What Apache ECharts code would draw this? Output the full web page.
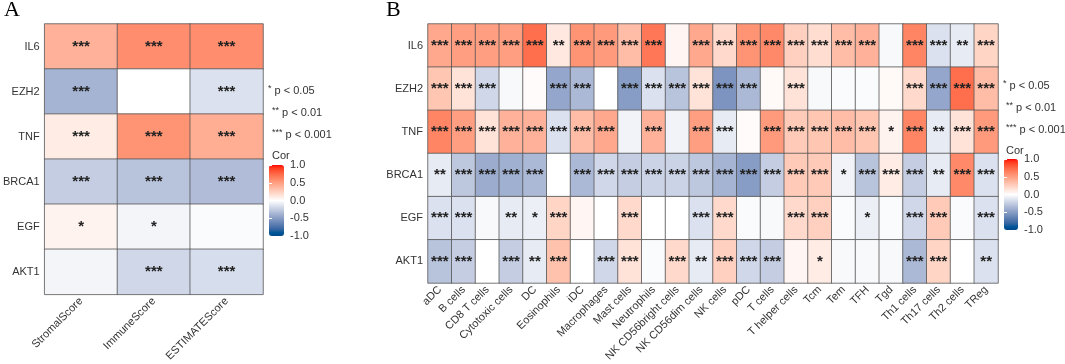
<!DOCTYPE html>
<html>
<head>
<meta charset="utf-8">
<script src="https://cdn.jsdelivr.net/npm/echarts@6/dist/echarts.min.js"></script>
<style>
  html, body { margin: 0; padding: 0; background: #fff; }
  #main { width: 1065px; height: 364px; }
</style>
</head>
<body>
<div id="main"></div>
<script>
"use strict";
// 基因（行）
var genes = ['IL6', 'EZH2', 'TNF', 'BRCA1', 'EGF', 'AKT1'];

// A 图列
var scoreCols = ['StromalScore', 'ImmuneScore', 'ESTIMATEScore'];
var corA = [
    [0.4, 0.58, 0.58],
    [-0.38, 0.0, -0.15],
    [0.1, 0.55, 0.42],
    [-0.25, -0.3, -0.33],
    [0.06, -0.05, -0.02],
    [-0.05, -0.2, -0.17]
];
var sigA = [
    ['***', '***', '***'],
    ['***', '', '***'],
    ['***', '***', '***'],
    ['***', '***', '***'],
    ['*', '*', ''],
    ['', '***', '***']
];

// B 图列（免疫细胞）
var cellCols = ['aDC', 'B cells', 'CD8 T cells', 'Cytotoxic cells', 'DC', 'Eosinophils', 'iDC',
    'Macrophages', 'Mast cells', 'Neutrophils', 'NK CD56bright cells', 'NK CD56dim cells',
    'NK cells', 'pDC', 'T cells', 'T helper cells', 'Tcm', 'Tem', 'TFH', 'Tgd',
    'Th1 cells', 'Th17 cells', 'Th2 cells', 'TReg'];
var corIL6 = [0.45, 0.5, 0.5, 0.5, 0.72, 0.12, 0.55, 0.52, 0.35, 0.68, 0.05, 0.45, 0.2, 0.55, 0.6, 0.25, 0.18, 0.35, 0.4, -0.03, 0.62, -0.15, -0.1, 0.22];
var corEZH2 = [0.3, 0.15, -0.2, -0.03, 0.02, -0.45, -0.35, 0.0, -0.5, -0.15, -0.3, 0.15, -0.55, -0.35, 0.03, 0.15, -0.03, -0.02, -0.02, 0.03, 0.2, -0.45, 0.72, 0.35];
var corTNF = [0.62, 0.5, 0.15, 0.4, 0.4, -0.15, 0.35, 0.45, -0.06, 0.4, -0.06, 0.5, -0.1, 0.02, 0.52, 0.28, 0.3, 0.35, 0.3, 0.06, 0.62, -0.1, 0.15, 0.52];
var corBRCA1 = [-0.1, -0.28, -0.42, -0.4, -0.35, 0.0, -0.35, -0.2, -0.25, -0.22, -0.22, -0.28, -0.38, -0.5, -0.25, 0.28, 0.28, -0.06, -0.3, 0.1, -0.25, -0.1, 0.6, -0.15];
var corEGF = [-0.15, -0.15, -0.03, -0.1, -0.08, 0.22, 0.05, 0.0, 0.2, 0.0, 0.0, -0.15, 0.2, -0.02, -0.03, 0.2, 0.25, -0.02, -0.08, -0.02, -0.2, 0.28, -0.02, -0.15];
var corAKT1 = [-0.3, -0.25, 0.0, -0.25, -0.1, 0.32, 0.0, -0.2, 0.15, -0.02, 0.2, -0.1, 0.25, -0.2, -0.25, 0.05, 0.1, -0.03, -0.03, -0.03, -0.35, 0.22, 0.0, -0.15];

var sigIL6 = ['***', '***', '***', '***', '***', '**', '***', '***', '***', '***', '', '***', '***', '***', '***', '***', '***', '***', '***', '', '***', '***', '**', '***'];
var sigEZH2 = ['***', '***', '***', '', '', '***', '***', '', '***', '***', '***', '***', '***', '***', '', '***', '', '', '', '', '***', '***', '***', '***'];
var sigTNF = ['***', '***', '***', '***', '***', '***', '***', '***', '', '***', '', '***', '***', '', '***', '***', '***', '***', '***', '*', '***', '**', '***', '***'];
var sigBRCA1 = ['**', '***', '***', '***', '***', '', '***', '***', '***', '***', '***', '***', '***', '***', '***', '***', '***', '*', '***', '***', '***', '**', '***', '***'];
var sigEGF = ['***', '***', '', '**', '*', '***', '', '', '***', '', '', '***', '***', '', '', '***', '***', '', '*', '', '***', '***', '', '***'];
var sigAKT1 = ['***', '***', '', '***', '**', '***', '', '***', '***', '', '***', '**', '***', '***', '***', '', '*', '', '', '', '***', '***', '', '**'];

var corB = [corIL6, corEZH2, corTNF, corBRCA1, corEGF, corAKT1];
var sigB = [sigIL6, sigEZH2, sigTNF, sigBRCA1, sigEGF, sigAKT1];

var pLegend = ['p < 0.05', 'p < 0.01', 'p < 0.001'];

// Lab 插值（类似 ggplot 的 gradient2）
function toLin(c) { c /= 255; return c <= 0.04045 ? c / 12.92 : Math.pow((c + 0.055) / 1.055, 2.4); }
function toSrgb(c) { c = c <= 0.0031308 ? 12.92 * c : 1.055 * Math.pow(c, 1 / 2.4) - 0.055; return Math.round(Math.max(0, Math.min(1, c)) * 255); }
function hexToLab(hex) {
    var r = toLin(parseInt(hex.substr(1, 2), 16)), g = toLin(parseInt(hex.substr(3, 2), 16)), b = toLin(parseInt(hex.substr(5, 2), 16));
    var x = (0.4124 * r + 0.3576 * g + 0.1805 * b) / 0.95047;
    var y = 0.2126 * r + 0.7152 * g + 0.0722 * b;
    var z = (0.0193 * r + 0.1192 * g + 0.9505 * b) / 1.08883;
    var f = function (t) { return t > 0.008856 ? Math.cbrt(t) : 7.787 * t + 16 / 116; };
    return [116 * f(y) - 16, 500 * (f(x) - f(y)), 200 * (f(y) - f(z))];
}
function labToHex(lab) {
    var fy = (lab[0] + 16) / 116, fx = fy + lab[1] / 500, fz = fy - lab[2] / 200;
    var inv = function (t) { var t3 = t * t * t; return t3 > 0.008856 ? t3 : (t - 16 / 116) / 7.787; };
    var x = 0.95047 * inv(fx), y = inv(fy), z = 1.08883 * inv(fz);
    var r = 3.2406 * x - 1.5372 * y - 0.4986 * z;
    var g = -0.9689 * x + 1.8758 * y + 0.0415 * z;
    var b = 0.0557 * x - 0.2040 * y + 1.0570 * z;
    return 'rgb(' + toSrgb(r) + ',' + toSrgb(g) + ',' + toSrgb(b) + ')';
}
function buildRamp(lowLab, mid, high, n) {
    var m = hexToLab(mid), h = hexToLab(high), out = [];
    for (var i = 0; i <= n; i++) {
        var v = -1 + 2 * i / n, a = v < 0 ? lowLab : h, t = Math.abs(v);
        out.push(labToHex([m[0] + (a[0] - m[0]) * t, m[1] + (a[1] - m[1]) * t, m[2] + (a[2] - m[2]) * t]));
    }
    return out;
}
var ramp = buildRamp([29, 4, -46], '#ffffff', '#ff0000', 40);

function toCells(mat) {
    var d = [];
    mat.forEach(function (row, y) {
        row.forEach(function (v, x) { d.push([x, y, v]); });
    });
    return d;
}

var labelFont = 'Liberation Sans, Arial, sans-serif';
var txt = '#333';

function catX(grid, data) {
    return {
        gridIndex: grid, type: 'category', data: data,
        axisLine: { show: false }, axisTick: { show: false }, splitLine: { show: false },
        axisLabel: { interval: 0, rotate: 45, margin: 5, fontSize: 11, color: txt, fontFamily: labelFont }
    };
}
function catY(grid) {
    return {
        gridIndex: grid, type: 'category', data: genes, inverse: true,
        axisLine: { show: false }, axisTick: { show: false }, splitLine: { show: false },
        axisLabel: { margin: 5, fontSize: 11, color: txt, fontFamily: labelFont }
    };
}
function barX(grid) { return { gridIndex: grid, type: 'value', show: false }; }
function barY(grid, side) {
    return {
        gridIndex: grid, type: 'value', min: -1, max: 1, interval: 0.5, position: side, z: 10,
        axisLine: { show: false }, splitLine: { show: false },
        axisTick: { show: true, inside: true, length: 3, lineStyle: { color: '#fff', width: 1 } },
        axisLabel: {
            show: side === 'right', margin: 6, fontSize: 11, color: txt, fontFamily: labelFont,
            formatter: function (v) { return v.toFixed(1); }
        }
    };
}
function heat(idx, mat, sig) {
    return {
        type: 'heatmap', xAxisIndex: idx, yAxisIndex: idx, data: toCells(mat),
        itemStyle: { borderColor: '#555', borderWidth: 0.8 },
        label: {
            show: true, fontSize: 15, fontWeight: 'bold', color: '#222', fontFamily: labelFont,
            formatter: function (p) { return sig[p.data[1]][p.data[0]]; }
        },
        emphasis: { disabled: true }
    };
}
function pText(x, y, stars, s) {
    return {
        type: 'text', left: x, top: y,
        style: {
            text: '{s|' + stars + '} ' + s, font: '11px ' + labelFont, fill: txt,
            rich: { s: { fontSize: 9, fill: txt, fontFamily: labelFont, verticalAlign: 'top', padding: [0, 0, 4, 0] } }
        }
    };
}

var myChart = echarts.init(document.getElementById('main'));
var option = {
    backgroundColor: '#fff',
    animation: false,
    title: [
        { text: 'A', left: 4, top: -1, padding: 0, textStyle: { fontFamily: 'Liberation Serif, serif', fontSize: 22, fontWeight: 'normal', color: '#000' } },
        { text: 'B', left: 386, top: -1, padding: 0, textStyle: { fontFamily: 'Liberation Serif, serif', fontSize: 22, fontWeight: 'normal', color: '#000' } }
    ],
    grid: [
        { left: 40, top: 24, width: 223, height: 273 },
        { left: 428, top: 24, width: 570, height: 263 },
        { left: 269, top: 165, width: 15, height: 71 },
        { left: 1004, top: 159, width: 14, height: 71 }
    ],
    xAxis: [catX(0, scoreCols), catX(1, cellCols), barX(2), barX(3)],
    yAxis: [catY(0), catY(1), barY(2, 'right'), barY(3, 'right'), barY(2, 'left'), barY(3, 'left')],
    visualMap: [
        { type: 'continuous', min: -1, max: 1, seriesIndex: 0, calculable: false, padding: 0, left: 269, top: 165, itemWidth: 15, itemHeight: 71, inRange: { color: ramp }, text: null, hoverLink: false },
        { type: 'continuous', min: -1, max: 1, seriesIndex: 1, calculable: false, padding: 0, left: 1004, top: 159, itemWidth: 14, itemHeight: 71, inRange: { color: ramp }, text: null, hoverLink: false }
    ],
    series: [heat(0, corA, sigA), heat(1, corB, sigB)],
    graphic: [
        pText(268, 84, '*', pLegend[0]),
        pText(272, 106, '**', pLegend[1]),
        pText(272, 128, '***', pLegend[2]),
        { type: 'text', left: 272, top: 150, style: { text: 'Cor', font: '11px ' + labelFont, fill: txt } },
        pText(1003, 79, '*', pLegend[0]),
        pText(1006, 101, '**', pLegend[1]),
        pText(1006, 123, '***', pLegend[2]),
        { type: 'text', left: 1006, top: 145, style: { text: 'Cor', font: '11px ' + labelFont, fill: txt } }
    ]
};
myChart.setOption(option);

window.onresize = function () {
    myChart.resize();
};
</script>
</body>
</html>
